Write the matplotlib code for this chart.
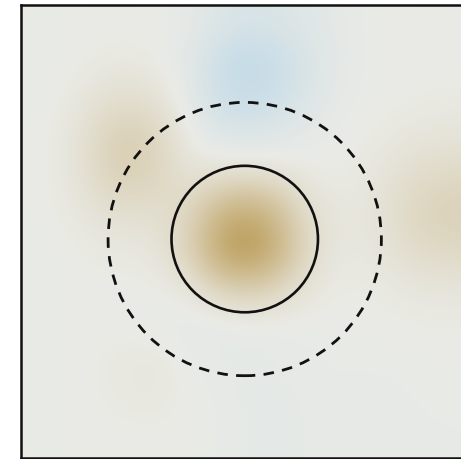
import numpy as np
import matplotlib.pyplot as plt
from matplotlib.colors import LinearSegmentedColormap
from matplotlib.patches import Circle

# coarse field sampled on a 12 x 12 grid (rows top to bottom)
field_rows = [
    [-0.02, 0.00, 0.00, 0.00, -0.04, -0.16, -0.17, -0.10, -0.04, 0.00, 0.00, 0.00],
    [-0.02, 0.00, 0.03, 0.02, -0.08, -0.36, -0.37, -0.18, -0.05, 0.00, 0.00, 0.00],
    [-0.02, 0.04, 0.14, 0.12, -0.06, -0.32, -0.31, -0.14, -0.03, 0.00, 0.01, 0.02],
    [-0.01, 0.07, 0.30, 0.26, -0.01, -0.13, -0.12, -0.04, 0.00, 0.02, 0.06, 0.07],
    [-0.01, 0.07, 0.29, 0.25, 0.07, 0.12, 0.11, 0.03, 0.00, 0.06, 0.16, 0.19],
    [-0.01, 0.04, 0.13, 0.12, 0.20, 0.65, 0.60, 0.15, 0.03, 0.08, 0.23, 0.28],
    [-0.02, 0.01, 0.03, 0.04, 0.25, 0.87, 0.80, 0.19, 0.02, 0.06, 0.17, 0.20],
    [-0.02, 0.00, 0.00, 0.00, 0.05, 0.29, 0.27, 0.07, 0.00, 0.02, 0.05, 0.06],
    [-0.02, 0.00, 0.00, -0.02, -0.06, -0.05, -0.03, -0.02, 0.00, 0.00, 0.01, 0.01],
    [-0.02, 0.00, 0.03, 0.06, -0.01, -0.05, -0.05, -0.02, -0.02, -0.02, -0.01, 0.00],
    [-0.02, 0.00, 0.02, 0.04, 0.00, -0.03, -0.06, -0.04, -0.02, -0.03, -0.02, -0.02],
    [-0.02, 0.00, 0.00, 0.00, 0.00, -0.03, -0.06, -0.04, -0.02, -0.03, -0.02, -0.02],
]

circle_center = (-0.03, -0.10)
inner_radius = 0.97
outer_radius = 1.81

field = np.array(field_rows)

cmap = LinearSegmentedColormap.from_list(
    "blue_beige_brown", ["#92c6ea", "#eaebe6", "#b99850"]
)

fig = plt.figure(figsize=(4.61, 4.60), dpi=100)
ax = fig.add_axes([20.5 / 461, 1.0 / 460, 453 / 461, 453 / 460])

ax.imshow(field, cmap=cmap, vmin=-0.85, vmax=0.85, interpolation="bicubic",
          extent=[-3, 3, -3, 3], origin="upper")

ax.add_patch(Circle(circle_center, inner_radius, fill=False, color="#111111", lw=1.9))
ax.add_patch(Circle(circle_center, outer_radius, fill=False, color="#111111", lw=2.0,
                    linestyle=(0, (3.8, 3.0))))

ax.set_xlim(-3, 3)
ax.set_ylim(-3, 3)
ax.set_xticks([])
ax.set_yticks([])
for side in ax.spines.values():
    side.set_linewidth(1.8)
    side.set_color("#111111")

fig.savefig("out.png", dpi=100)
